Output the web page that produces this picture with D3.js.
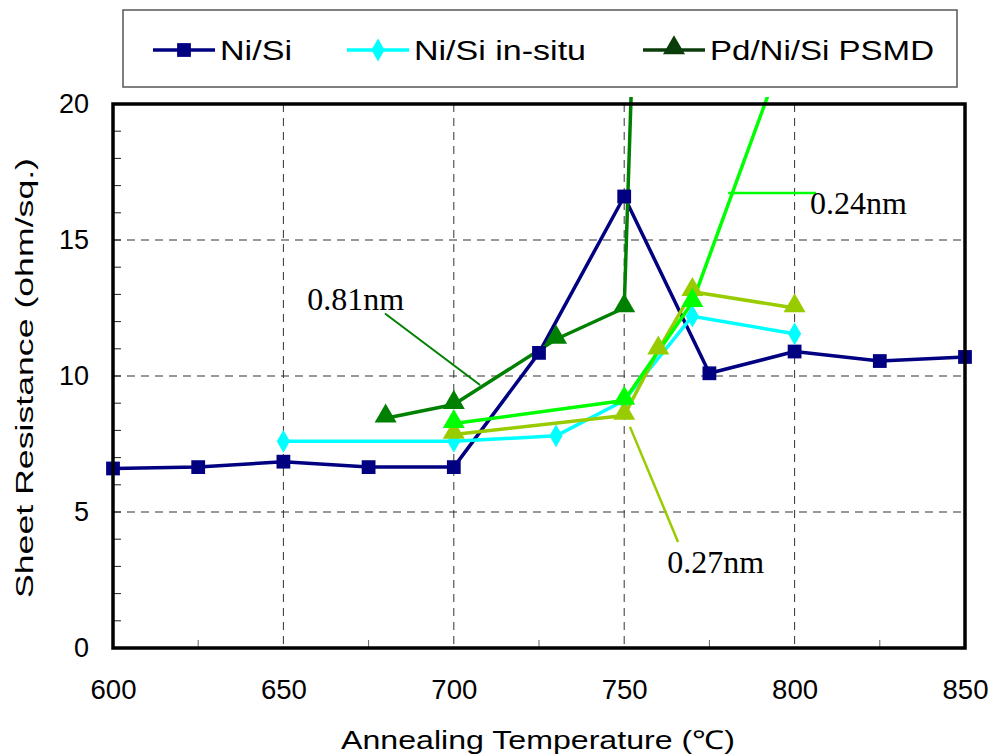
<!DOCTYPE html>
<html>
<head>
<meta charset="utf-8">
<script src="https://cdn.jsdelivr.net/npm/d3@7"></script>
<style>
  body { margin: 0; background: #fff; }
  svg { display: block; }
</style>
</head>
<body>
<svg id="chart" width="993" height="755"></svg>
<script>
// Sheet resistance vs. annealing temperature
const xTicks = [600, 650, 700, 750, 800, 850];
const yTicks = [0, 5, 10, 15, 20];

const niSiTemp = [600, 625, 650, 675, 700, 725, 750, 775, 800, 825, 850];
const niSiRs   = [6.6, 6.65, 6.85, 6.65, 6.65, 10.85, 16.6, 10.1, 10.9, 10.55, 10.7];

const inSituTemp = [650, 700, 730, 750, 770, 800];
const inSituRs   = [7.6, 7.6, 7.8, 9.1, 12.2, 11.55];

// Pd/Ni/Si PSMD, three Pd thicknesses
const pd081Temp = [680, 700, 730, 750, 760];
const pd081Rs   = [8.45, 8.95, 11.35, 12.5, 51];
const pd024Temp = [700, 750, 770, 800];
const pd024Rs   = [8.25, 9.1, 12.7, 23];
const pd027Temp = [700, 750, 760, 770, 800];
const pd027Rs   = [7.85, 8.55, 10.95, 13.1, 12.5];

const legendLabels = ["Ni/Si", "Ni/Si in-situ", "Pd/Ni/Si PSMD"];

// Thickness callouts in data units
const calloutLabels = ["0.81nm", "0.24nm", "0.27nm"];
const calloutText   = [[657, 12.43], [804.5, 15.96], [762.6, 2.76]];
const calloutLines  = [[[679.8, 12.3], [707.7, 9.67]],
                       [[780.5, 16.73], [806.3, 16.73]],
                       [[751.7, 8.13], [765.8, 3.9]]];

const svg = d3.select("#chart");
const L = 113, R = 965, T = 104, B = 648;

const x = d3.scaleLinear().domain([600, 850]).range([L, R]);
const y = d3.scaleLinear().domain([0, 20]).range([B, T]);

// clip a little above the frame, the way the lines run past it
svg.append("defs").append("clipPath").attr("id", "plotClip")
  .append("rect").attr("x", L - 10).attr("y", T - 7).attr("width", R - L + 20).attr("height", B - T + 7);

// dashed grid
const grid = svg.append("g");
grid.selectAll("line.v").data(xTicks.slice(1, -1)).join("line")
  .attr("x1", d => x(d)).attr("x2", d => x(d)).attr("y1", T).attr("y2", B)
  .attr("stroke", "#333").attr("stroke-width", 1).attr("stroke-dasharray", "8,6");
grid.selectAll("line.h").data(yTicks.slice(1, -1)).join("line")
  .attr("y1", d => y(d)).attr("y2", d => y(d)).attr("x1", L).attr("x2", R)
  .attr("stroke", "#333").attr("stroke-width", 1).attr("stroke-dasharray", "8,6");

// inner minor ticks
const yMinor = d3.range(1, 20);
svg.append("g").selectAll("line").data(yMinor).join("line")
  .attr("x1", L).attr("x2", L + 8).attr("y1", d => y(d)).attr("y2", d => y(d))
  .attr("stroke", "#222").attr("stroke-width", 1);
const xMinor = [625, 675, 725, 775, 825];
svg.append("g").selectAll("line").data(xMinor).join("line")
  .attr("x1", d => x(d)).attr("x2", d => x(d)).attr("y1", B).attr("y2", B - 8)
  .attr("stroke", "#666").attr("stroke-width", 1);

// axes (labels only; the frame is drawn separately)
const yAxis = svg.append("g").attr("transform", `translate(${L},0)`)
  .call(d3.axisLeft(y).tickValues(yTicks).tickSize(0).tickPadding(24));
yAxis.select(".domain").remove();
yAxis.selectAll("text").attr("font-family", "Liberation Sans, Arial, sans-serif")
  .attr("font-size", 27).attr("fill", "#000");

const xAxis = svg.append("g").attr("transform", `translate(0,${B})`)
  .call(d3.axisBottom(x).tickValues(xTicks).tickSize(0).tickPadding(32));
xAxis.select(".domain").remove();
xAxis.selectAll("text").attr("font-family", "Liberation Sans, Arial, sans-serif")
  .attr("font-size", 27).attr("fill", "#000")
  .attr("textLength", 46).attr("lengthAdjust", "spacingAndGlyphs");

// series
const series = [
  { t: niSiTemp,   v: niSiRs,   color: "#000080", marker: "square" },
  { t: inSituTemp, v: inSituRs, color: "#00FFFF", marker: "diamond" },
  { t: pd081Temp,  v: pd081Rs,  color: "#008000", marker: "triangle", markN: 4 },
  { t: pd027Temp,  v: pd027Rs,  color: "#99CC00", marker: "triangle" },
  { t: pd024Temp,  v: pd024Rs,  color: "#00FF00", marker: "triangle", markN: 3 }
];

const line = d3.line().x(d => x(d[0])).y(d => y(d[1]));
const symbols = {
  square:   d3.symbol().type(d3.symbolSquare).size(190),
  diamond:  d3.symbol().type(d3.symbolDiamond).size(150),
  triangle: d3.symbol().type(d3.symbolTriangle).size(210)
};

const plot = svg.append("g").attr("clip-path", "url(#plotClip)");
series.forEach(s => {
  const pts = s.t.map((t, i) => [t, s.v[i]]);
  plot.append("path").datum(pts).attr("d", line)
    .attr("fill", "none").attr("stroke", s.color).attr("stroke-width", 3.5)
    .attr("stroke-linejoin", "round");
});
series.forEach(s => {
  const pts = s.t.map((t, i) => [t, s.v[i]]).slice(0, s.markN || s.t.length);
  plot.append("g").selectAll("path").data(pts).join("path")
    .attr("d", symbols[s.marker])
    .attr("transform", d => `translate(${x(d[0])},${y(d[1]) - (s.marker === "triangle" ? 2 : 0)})`)
    .attr("fill", s.color);
});

// callouts
const callColors = ["#008000", "#00FF00", "#99CC00"];
calloutLabels.forEach((lab, i) => {
  const ln = calloutLines[i];
  svg.append("line")
    .attr("x1", x(ln[0][0])).attr("y1", y(ln[0][1]))
    .attr("x2", x(ln[1][0])).attr("y2", y(ln[1][1]))
    .attr("stroke", callColors[i]).attr("stroke-width", i === 0 ? 2 : 2.5);
  svg.append("text").attr("x", x(calloutText[i][0])).attr("y", y(calloutText[i][1]))
    .attr("font-family", "Liberation Serif, Times New Roman, serif").attr("font-size", 32)
    .attr("fill", "#000").text(lab);
});

// frame
svg.append("rect").attr("x", L).attr("y", T).attr("width", R - L).attr("height", B - T)
  .attr("fill", "none").attr("stroke", "#000").attr("stroke-width", 3.5);

// axis titles
svg.append("text").attr("x", 538).attr("y", 749).attr("text-anchor", "middle")
  .attr("font-family", "Liberation Sans, Arial, sans-serif")
  .attr("font-size", 26).attr("fill", "#000")
  .attr("textLength", 394).attr("lengthAdjust", "spacingAndGlyphs")
  .text("Annealing Temperature (℃)");
svg.append("text").attr("transform", "translate(33,378) rotate(-90)").attr("text-anchor", "middle")
  .attr("font-family", "Liberation Sans, Arial, sans-serif").attr("font-size", 23).attr("fill", "#000")
  .attr("textLength", 440).attr("lengthAdjust", "spacingAndGlyphs")
  .text("Sheet Resistance (ohm/sq.)");

// legend
const lg = svg.append("g");
lg.append("rect").attr("x", 123).attr("y", 10).attr("width", 834).attr("height", 77)
  .attr("fill", "#fff").attr("stroke", "#555").attr("stroke-width", 1.5);
const legColors = ["#000080", "#00FFFF", "#0B3D0B"];
const legMarkers = ["square", "diamond", "triangle"];
const legX = [153, 347, 643];
const legW = [72, 172, 224];
legendLabels.forEach((lab, i) => {
  const cy = 50;
  lg.append("line").attr("x1", legX[i]).attr("x2", legX[i] + 62).attr("y1", cy).attr("y2", cy)
    .attr("stroke", legColors[i]).attr("stroke-width", 3.5);
  lg.append("path").attr("d", symbols[legMarkers[i]])
    .attr("transform", `translate(${legX[i] + 31},${cy - (legMarkers[i] === "triangle" ? 2 : 0)})`)
    .attr("fill", legColors[i]);
  lg.append("text").attr("x", legX[i] + 67).attr("y", cy + 10)
    .attr("font-family", "Liberation Sans, Arial, sans-serif")
    .attr("font-size", 27).attr("fill", "#000")
    .attr("textLength", legW[i]).attr("lengthAdjust", "spacingAndGlyphs")
    .text(lab);
});
</script>
</body>
</html>
